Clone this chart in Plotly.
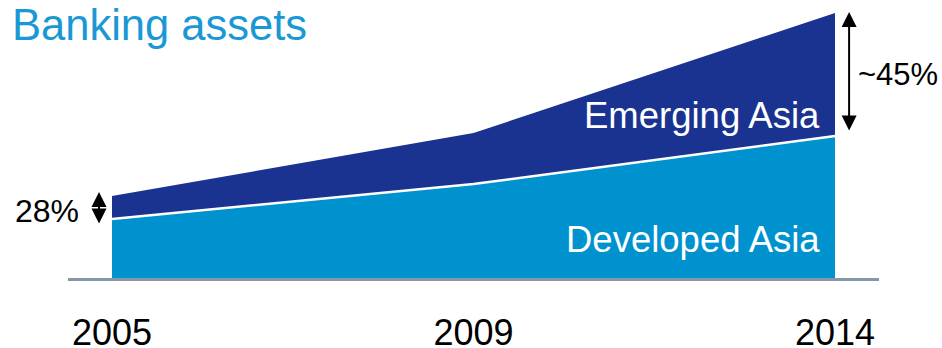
import plotly.graph_objects as go

# Banking assets by region (index units), stacked
years = ["2005", "2009", "2014"]
developed_asia = [59, 94, 142]
emerging_asia = [23, 51, 123]

FONT = "Liberation Sans, Arial, sans-serif"
DEV_COLOR = "#0092cf"
EMG_COLOR = "#1b3390"

xpos = list(range(len(years)))
totals = [d + e for d, e in zip(developed_asia, emerging_asia)]

fig = go.Figure()
fig.add_trace(go.Scatter(
    x=xpos, y=developed_asia, stackgroup="assets", mode="none",
    fillcolor=DEV_COLOR, name="Developed Asia", hoverinfo="skip"))
fig.add_trace(go.Scatter(
    x=xpos, y=emerging_asia, stackgroup="assets", mode="none",
    fillcolor=EMG_COLOR, name="Emerging Asia", hoverinfo="skip"))
# white divider along the top of the developed band
fig.add_trace(go.Scatter(
    x=xpos, y=developed_asia, mode="lines",
    line=dict(color="white", width=2.5), hoverinfo="skip"))

annotations = [
    dict(text="Banking assets", x=0, xref="paper", xanchor="left", xshift=-58,
         y=1, yref="paper", yanchor="top", yshift=14, showarrow=False,
         font=dict(family=FONT, size=43.5, color="#1a98d5")),
    dict(x=xpos[-1], xref="x", xanchor="right", xshift=-13,
         y=developed_asia[-1] + 21, yref="y", yanchor="middle",
         text="Emerging Asia", showarrow=False,
         font=dict(family=FONT, size=36.5, color="white")),
    dict(x=xpos[-1], xref="x", xanchor="right", xshift=-13,
         y=developed_asia[-1] / 2 - 32, yref="y", yanchor="middle",
         text="Developed Asia", showarrow=False,
         font=dict(family=FONT, size=36.5, color="white")),
    # share markers
    dict(x=xpos[0], xref="x", xanchor="right", xshift=-31,
         y=(developed_asia[0] + totals[0]) / 2 - 3, yref="y", yanchor="middle",
         text="28%", showarrow=False,
         font=dict(family=FONT, size=32, color="black")),
    dict(x=xpos[-1], xref="x", xanchor="left", xshift=21,
         y=(developed_asia[-1] + totals[-1]) / 2, yref="y", yanchor="middle",
         text="~45%", showarrow=False,
         font=dict(family=FONT, size=31, color="black")),
]

# double-headed arrows spanning the Emerging Asia band
for xi, lo, hi in [(-0.036, developed_asia[0] - 6, totals[0] + 4),
                   (2.039, developed_asia[-1] + 4, totals[-1] + 1)]:
    annotations.append(dict(
        x=xi, y=hi, xref="x", yref="y", ax=xi, ay=lo, axref="x", ayref="y",
        showarrow=True, arrowside="end+start", arrowhead=2, arrowsize=1.5,
        arrowwidth=2, arrowcolor="black", text=""))

fig.update_layout(
    width=942, height=348,
    margin=dict(l=68, r=63, t=13, b=70, autoexpand=False),
    paper_bgcolor="white", plot_bgcolor="white",
    showlegend=False,
    xaxis=dict(range=[-0.1217, 2.1217], tickvals=xpos, ticktext=years,
               showgrid=False, zeroline=False, showline=True,
               linecolor="#8497ab", linewidth=3, ticks="",
               ticklabelstandoff=21, automargin=False,
               tickfont=dict(family=FONT, size=36, color="black"),
               fixedrange=True),
    yaxis=dict(range=[0, 265], visible=False, fixedrange=True, automargin=False),
    annotations=annotations,
)

fig.write_html("out.html")
